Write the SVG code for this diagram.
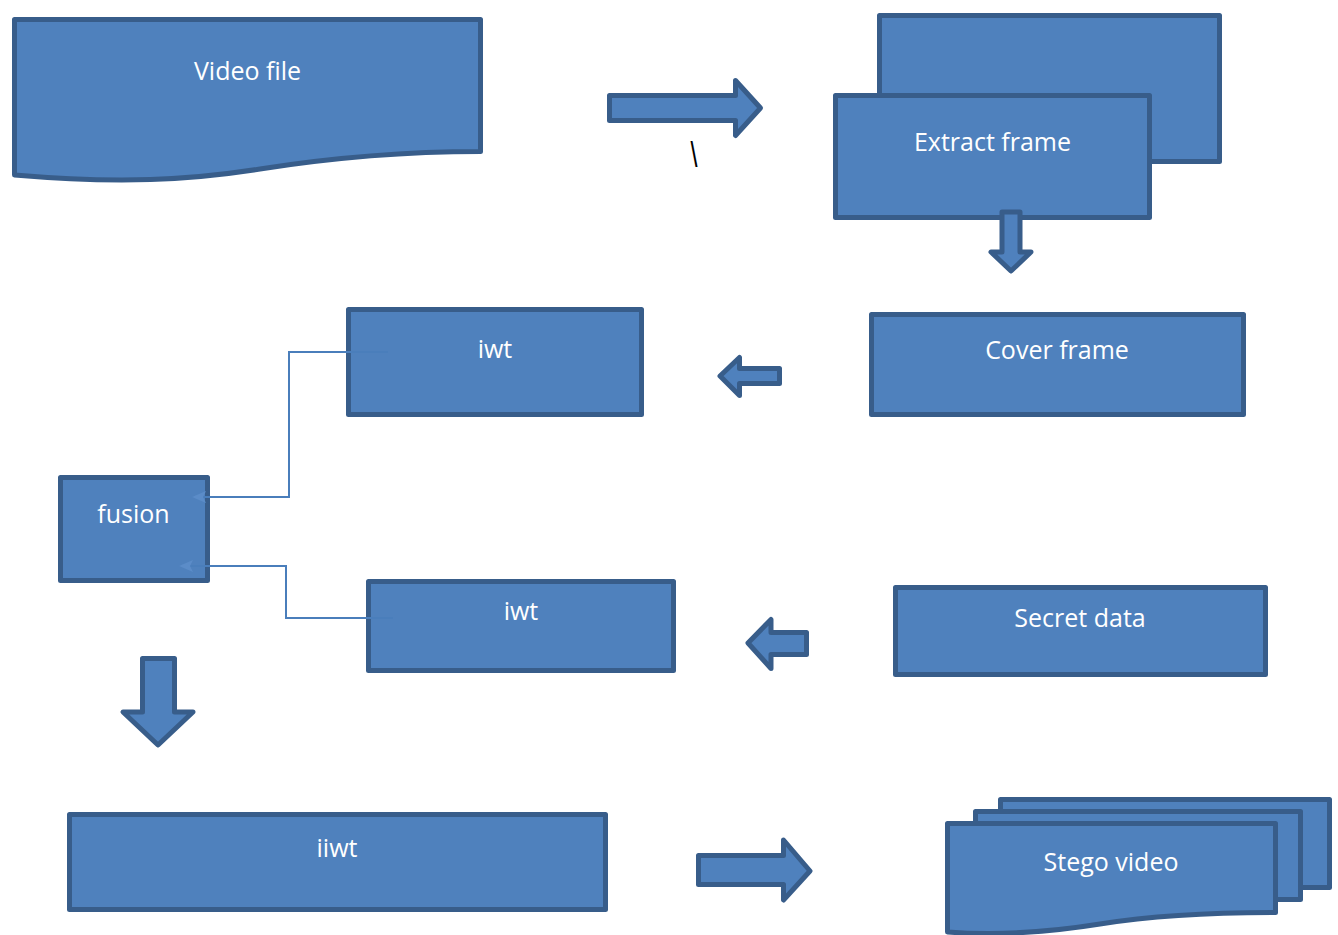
<svg xmlns="http://www.w3.org/2000/svg" width="1338" height="935" viewBox="0 0 1338 935">
  <style>
    .shape { fill: #4f81bd; stroke: #385d8a; stroke-width: 5; stroke-linejoin: round; }
    .block { fill: #4f81bd; stroke: #385d8a; stroke-width: 5; stroke-linejoin: round; }
    .label { font-family: "Open Sans", "Liberation Sans", sans-serif; font-size: 25px; fill: #ffffff; text-anchor: middle; }
    .link { fill: none; stroke: #4a7ebb; stroke-width: 2; }
  </style>
  <defs>
    <marker id="head" viewBox="0 0 14 12" refX="13" refY="6" markerWidth="14" markerHeight="12" markerUnits="userSpaceOnUse" orient="auto">
      <path d="M0,0 L14,6 L0,12 L3,6 Z" fill="#5b8cc8"/>
    </marker>
  </defs>

  <rect width="1338" height="935" fill="#ffffff"/>

  <!-- input document -->
  <g id="video-file">
    <path class="shape" d="M14.5,19.5 H480.5 V151.5 C400,151.5 330,158 260,169 C190,180 120,184 14.5,175 Z"/>
    <text class="label" x="247.5" y="80">Video file</text>
  </g>

  <!-- block arrows between stages -->
  <g id="arrow-to-extract">
    <path class="block" d="M609.5,95.5 H735.5 V80.5 L760.5,108 L735.5,135.5 V120.5 H609.5 Z"/>
  </g>
  <text x="0" y="0" transform="translate(690.5,167) scale(0.7,1)" font-family="Liberation Sans, sans-serif" font-size="36" fill="#000000">\</text>

  <g id="extract-frame">
    <rect class="shape" x="879.5" y="15.5" width="340" height="146"/>
    <rect class="shape" x="835.5" y="95.5" width="314" height="122"/>
    <text class="label" x="992.5" y="151">Extract frame</text>
  </g>

  <g id="arrow-to-cover">
    <path class="block" d="M1002,212 H1020 V252 H1031 L1011,271 L991,252 H1002 Z"/>
  </g>

  <g id="cover-frame">
    <rect class="shape" x="871.5" y="314.5" width="372" height="100"/>
    <text class="label" x="1057" y="359">Cover frame</text>
  </g>

  <g id="arrow-to-iwt-top">
    <path class="block" d="M720,376 L739.5,357.5 V368.5 H779.5 V383.5 H739.5 V395.5 Z"/>
  </g>

  <g id="iwt-top">
    <rect class="shape" x="348.5" y="309.5" width="293" height="105"/>
    <text class="label" x="495" y="358">iwt</text>
  </g>

  <g id="fusion">
    <rect class="shape" x="60.5" y="477.5" width="147" height="103"/>
    <text class="label" x="133.5" y="523">fusion</text>
  </g>

  <g id="iwt-bottom">
    <rect class="shape" x="368.5" y="581.5" width="305" height="89"/>
    <text class="label" x="521" y="620">iwt</text>
  </g>

  <g id="arrow-to-iwt-bottom">
    <path class="block" d="M748,643 L771,619.5 V632.5 H806.5 V654.5 H771 V668.5 Z"/>
  </g>

  <g id="secret-data">
    <rect class="shape" x="895.5" y="587.5" width="370" height="87"/>
    <text class="label" x="1080" y="627">Secret data</text>
  </g>

  <g id="arrow-to-iiwt">
    <path class="block" d="M142.5,658.5 H174.5 V712 H193 L158,745 L123,712 H142.5 Z"/>
  </g>

  <g id="iiwt">
    <rect class="shape" x="69.5" y="814.5" width="536" height="95"/>
    <text class="label" x="337" y="857">iiwt</text>
  </g>

  <g id="arrow-to-stego">
    <path class="block" d="M698.5,855.5 H783.5 V840 L810,871 L783.5,900 V884.5 H698.5 Z" stroke-linejoin="miter"/>
  </g>

  <!-- output document stack -->
  <g id="stego-video">
    <rect class="shape" x="1000.5" y="799.5" width="329" height="88"/>
    <rect class="shape" x="975.5" y="811.5" width="325" height="88"/>
    <path class="shape" d="M947.5,823.5 H1275.5 V912.5 C1200,912.5 1150,916 1100,924 C1050,932 1000,936 947.5,932 Z"/>
    <text class="label" x="1111" y="871">Stego video</text>
  </g>

  <!-- elbow connectors feeding the fusion step -->
  <g id="connectors">
    <path class="link" d="M388,352 H289 V497 H193" marker-end="url(#head)"/>
    <path class="link" d="M393,618 H286 V566 H180" marker-end="url(#head)"/>
  </g>
</svg>
